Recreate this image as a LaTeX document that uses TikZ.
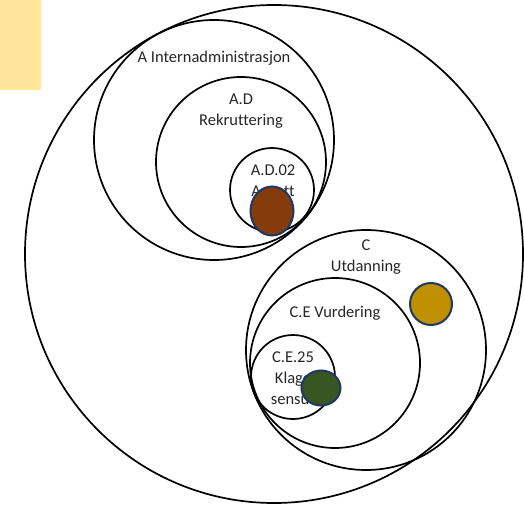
\documentclass[tikz,border=0pt]{standalone}
\usepackage{fontspec}
\setmainfont{Carlito}[Ligatures=NoCommon]
\usetikzlibrary{shapes.geometric}
\definecolor{notefill}{HTML}{FFE699}
\definecolor{brownfill}{HTML}{843C0C}
\definecolor{goldfill}{HTML}{BF9000}
\definecolor{greenfill}{HTML}{375623}
\definecolor{blobline}{HTML}{1F3864}

\begin{document}
\begin{tikzpicture}[x=1pt,y=-1pt,
    ring/.style={draw,circle,line width=1.7pt,inner sep=0pt},
    txt/.style={font=\fontsize{16.5}{21}\selectfont,align=center,inner sep=0pt,text=black!85},
    blob/.style={draw=blobline,ellipse,line width=2pt,inner sep=0pt}]
        \useasboundingbox (0,0) rectangle (524,505);
        \node[fill=notefill,anchor=north west,minimum width=41pt,minimum height=90pt,inner sep=0pt] (note) at (0,0) {};
        \foreach \n/\x/\y/\r in {all/274/254/249, A/214/140/120, AD/241/162/85, AD02/272/190/42,
          C/366/350/120, CE/335/363/85, CE25/293/377/42} {
          \node[ring,minimum size=2*\r] (\n) at (\x,\y) {};
        }
        \node[txt] (tA) at (214,58.5) {A Internadministrasjon};
        \node[txt] (tAD) at (241,111) {A.D\\Rekruttering};
        \node[txt] (tAD02) at (273,181) {A.D.02\\Ansatt};
        \node[txt] (tC) at (366,257) {C\\Utdanning};
        \node[txt] (tCE) at (335,313) {C.E Vurdering};
        \node[txt] (tCE25) at (293,378) {C.E.25\\Klage\\sensur};
        \node[blob,fill=brownfill,minimum width=43pt,minimum height=49pt] (bAD02) at (272,211) {};
        \node[blob,fill=goldfill,minimum width=42pt,minimum height=42pt] (bC) at (431,304) {};
        \node[blob,fill=greenfill,minimum width=39pt,minimum height=35pt] (bCE25) at (321,388) {};
      \end{tikzpicture}
\end{document}
